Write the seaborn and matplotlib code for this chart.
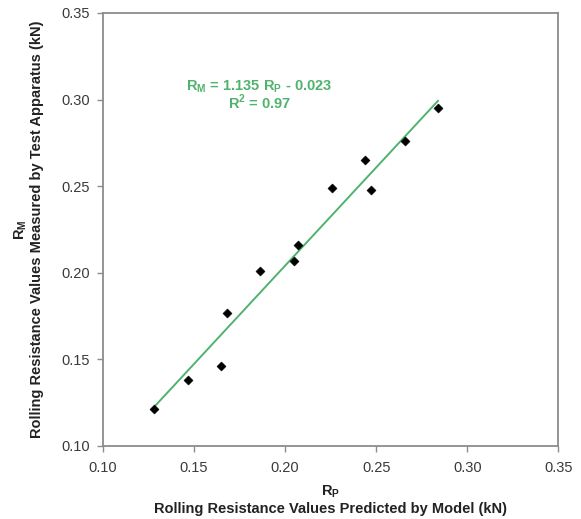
import numpy as np
import pandas as pd
import matplotlib
matplotlib.use("Agg")
import matplotlib.pyplot as plt
import seaborn as sns

# values
r_predicted = [0.128, 0.147, 0.165, 0.168, 0.186, 0.205, 0.207, 0.226, 0.244, 0.247, 0.266, 0.284]
r_measured = [0.121, 0.138, 0.146, 0.177, 0.201, 0.207, 0.216, 0.249, 0.265, 0.248, 0.276, 0.295]
slope = 1.135
intercept = -0.023
r_squared = 0.97
ticks = [0.10, 0.15, 0.20, 0.25, 0.30, 0.35]

df = pd.DataFrame({'rp': r_predicted, 'rm': r_measured})
fit_x = np.array([min(r_predicted), max(r_predicted)])
fit = pd.DataFrame({'rp': fit_x, 'rm': slope * fit_x + intercept})

sns.set_style('white')
plt.rcParams['font.family'] = ['Liberation Sans', 'DejaVu Sans']

green = '#4fb36e'
spine_gray = '#8c8c8c'

fig = plt.figure(figsize=(5.81, 5.19), dpi=100)
ax = fig.add_axes([0.177, 0.141, 0.784, 0.834])

sns.lineplot(data=fit, x='rp', y='rm', color=green, linewidth=1.4, ax=ax)
sns.scatterplot(data=df, x='rp', y='rm', marker='D', s=22, color='black',
                edgecolor='black', linewidth=0.3, ax=ax, zorder=3)

ax.set_xlim(0.10, 0.35)
ax.set_ylim(0.10, 0.35)
ax.set_xticks(ticks)
ax.set_yticks(ticks)
ax.set_xticklabels([f'{t:.2f}' for t in ticks])
ax.set_yticklabels([f'{t:.2f}' for t in ticks])
ax.tick_params(axis='both', direction='out', length=4, width=1, color=spine_gray,
               labelsize=10.5, labelcolor='#3a3a3a', left=True, bottom=True)
ax.tick_params(axis='x', pad=7)
ax.tick_params(axis='y', pad=5)

for side in ['top', 'right', 'left', 'bottom']:
    ax.spines[side].set_visible(True)
    ax.spines[side].set_color(spine_gray)
    ax.spines[side].set_linewidth(1.3)

ax.set_xlabel('R$_\\mathregular{P}$\nRolling Resistance Values Predicted by Model (kN)',
              fontsize=10.5, fontweight='bold', color='#222222', labelpad=6, linespacing=1.15)
ax.set_ylabel('R$_\\mathregular{M}$\nRolling Resistance Values Measured by Test Apparatus (kN)',
              fontsize=10.5, fontweight='bold', color='#222222', labelpad=13, linespacing=1.1)

ax.text(0.186, 0.3025,
        f'R$_\\mathregular{{M}}$ = {slope:.3f} R$_\\mathregular{{P}}$ - {abs(intercept):.3f}\nR$^\\mathregular{{2}}$ = {r_squared:.2f}',
        color=green, fontsize=10.5, fontweight='bold', ha='center', va='center', linespacing=0.85)

fig.savefig('out.png', dpi=100)
